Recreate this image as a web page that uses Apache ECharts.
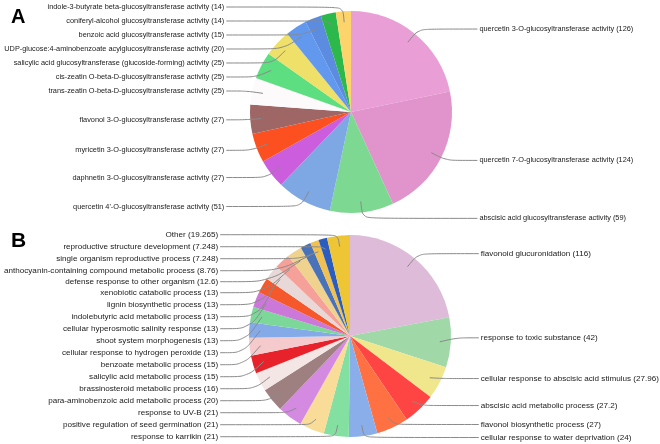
<!DOCTYPE html>
<html>
<head>
<meta charset="utf-8">
<script src="https://cdn.jsdelivr.net/npm/echarts@6/dist/echarts.min.js"></script>
<style>
html,body{margin:0;padding:0;background:#fff;}
#chart{width:660px;height:444px;}
</style>
</head>
<body>
<div id="chart"></div>
<script>
// Panel A: molecular function terms (clockwise from 12 o'clock)
const aNames = [
  'quercetin 3-O-glucosyltransferase activity',
  'quercetin 7-O-glucosyltransferase activity',
  'abscisic acid glucosyltransferase activity',
  "quercetin 4'-O-glucosyltransferase activity",
  'daphnetin 3-O-glucosyltransferase activity',
  'myricetin 3-O-glucosyltransferase activity',
  'flavonol 3-O-glucosyltransferase activity',
  'trans-zeatin O-beta-D-glucosyltransferase activity',
  'cis-zeatin O-beta-D-glucosyltransferase activity',
  'salicylic acid glucosyltransferase (glucoside-forming) activity',
  'UDP-glucose:4-aminobenzoate acylglucosyltransferase activity',
  'benzoic acid glucosyltransferase activity',
  'coniferyl-alcohol glucosyltransferase activity',
  'indole-3-butyrate beta-glucosyltransferase activity'
];
const aValues = [126, 124, 59, 51, 27, 27, 27, 25, 25, 25, 20, 15, 14, 14];
const aColors = ['#EA9ED6', '#E094CB', '#7DD891', '#7EA8E4', '#CC5EDE', '#FD5020', '#9E6664',
  '#FDFAFB', '#5DDE80', '#EEE068', '#6299EE', '#5B8CE0', '#2DB84B', '#FDD36B'];

// Panel B: biological process terms (clockwise from 12 o'clock)
const bNames = [
  'flavonoid glucuronidation',
  'response to toxic substance',
  'cellular response to abscisic acid stimulus',
  'abscisic acid metabolic process',
  'flavonol biosynthetic process',
  'cellular response to water deprivation',
  'response to karrikin',
  'positive regulation of seed germination',
  'response to UV-B',
  'para-aminobenzoic acid metabolic process',
  'brassinosteroid metabolic process',
  'salicylic acid metabolic process',
  'benzoate metabolic process',
  'cellular response to hydrogen peroxide',
  'shoot system morphogenesis',
  'cellular hyperosmotic salinity response',
  'indolebutyric acid metabolic process',
  'lignin biosynthetic process',
  'xenobiotic catabolic process',
  'defense response to other organism',
  'anthocyanin-containing compound metabolic process',
  'single organism reproductive process',
  'reproductive structure development',
  'Other'
];
const bValues = [116, 42, 27.96, 27.2, 27, 24, 21, 21, 21, 20, 16, 15, 15, 13, 13, 13, 13, 13, 13, 12.6, 8.76, 7.248, 7.248, 19.265];
const bColors = ['#DEBBD8', '#A0D8A8', '#F0E68C', '#FF4444', '#FF7043', '#8AAEEA', '#84E0A0', '#F8DC98',
  '#D48AE0', '#9E8080', '#F3E6E4', '#E8222A', '#F5CACC', '#84AAE8', '#7CD898', '#CC78D8', '#F5582A',
  '#E8D8D8', '#F6A09A', '#EED28E', '#4A72B8', '#F0C050', '#2A5DBF', '#EEC535'];

const FONT = '"Liberation Sans", Arial, sans-serif';

// build pie data; for the label layer, pick the second label-line segment length by side
function buildData(names, values, colors, labelCfg) {
  const total = values.reduce((s, v) => s + v, 0);
  let acc = 0;
  return names.map((n, i) => {
    const mid = (acc + values[i] / 2) / total;
    acc += values[i];
    const item = { name: n, value: values[i] };
    if (labelCfg) {
      item.itemStyle = { color: 'rgba(0,0,0,0)' };
      item.labelLine = { length2: mid < 0.5 ? labelCfg.len2Right : labelCfg.len2Left };
    } else {
      item.itemStyle = { color: colors[i] };
    }
    return item;
  });
}

function piePair(names, values, colors, box, center, cfg) {
  const common = {
    type: 'pie',
    left: 0, width: 660,
    top: box[0], height: box[1],
    center: center,
    startAngle: 90,
    clockwise: true,
    silent: true,
    animation: false,
    emphasis: { disabled: true },
    avoidLabelOverlap: true
  };
  return [
    Object.assign({}, common, {
      radius: cfg.r,
      data: buildData(names, values, colors, null),
      itemStyle: { borderWidth: 0 },
      label: { show: false },
      labelLine: { show: false },
      z: 2
    }),
    Object.assign({}, common, {
      radius: cfg.rInner,
      bleedMargin: 0,
      data: buildData(names, values, colors, cfg),
      itemStyle: { borderWidth: 0 },
      labelLayout: { hideOverlap: false },
      label: {
        show: true,
        position: 'outer',
        alignTo: 'labelLine',
        distanceToLabelLine: 2,
        overflow: 'none',
        formatter: '{b} ({c})',
        fontFamily: FONT,
        fontSize: cfg.fontSize,
        lineHeight: cfg.lineHeight,
        color: '#1a1a1a'
      },
      labelLine: {
        show: true,
        length: cfg.len,
        length2: 22,
        smooth: 0.3,
        lineStyle: { color: '#8a8a8a', width: 1 }
      },
      z: 3
    })
  ];
}

const chart = echarts.init(document.getElementById('chart'), null, { renderer: 'canvas' });
const series = [].concat(
  piePair(aNames, aValues, aColors, [0, 228], [351, 112],
    { r: 101, rInner: 90, len: 17, len2Right: 31, len2Left: 18, fontSize: 7.35, lineHeight: 12 }),
  piePair(bNames, bValues, bColors, [228, 216], [350, 108],
    { r: 101, rInner: 90, len: 17, len2Right: 22, len2Left: 23, fontSize: 8.1, lineHeight: 11 })
);

chart.setOption({
  backgroundColor: '#fff',
  animation: false,
  graphic: [
    { type: 'text', left: 11, top: 7, style: { text: 'A', fontFamily: FONT, fontWeight: 'bold', fontSize: 20, fill: '#000' } },
    { type: 'text', left: 11, top: 231, style: { text: 'B', fontFamily: FONT, fontWeight: 'bold', fontSize: 21, fill: '#000' } }
  ],
  series: series
});
</script>
</body>
</html>
